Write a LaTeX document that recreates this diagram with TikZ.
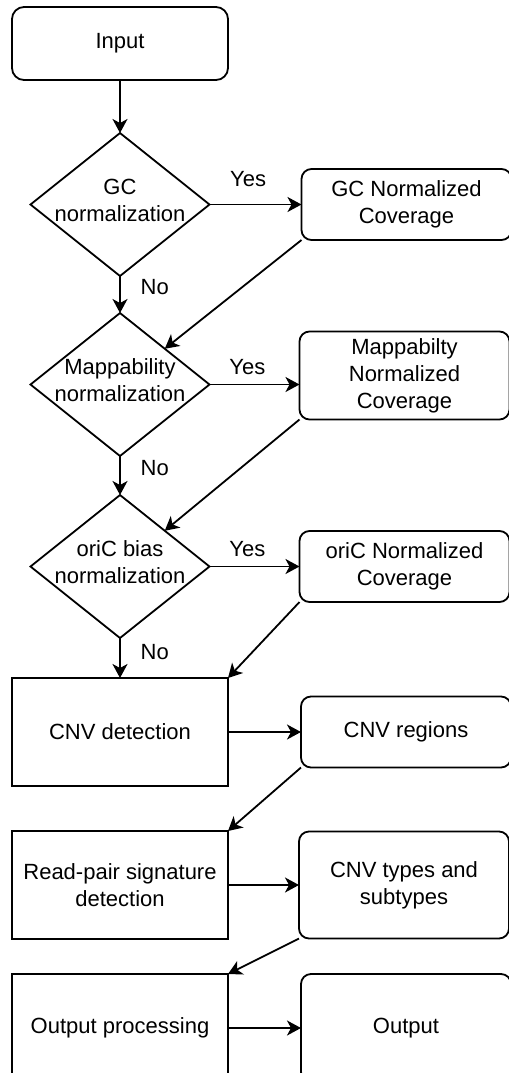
\documentclass[tikz,border=0pt]{standalone}
\usepackage{fontspec}
\setmainfont{Liberation Sans}
\usetikzlibrary{arrows.meta,positioning,shapes.geometric}
\tikzset{
  term/.style={draw, rectangle, rounded corners=6pt, minimum width=108pt, minimum height=36.5pt, align=center},
  decision/.style={draw, diamond, minimum width=89.5pt, minimum height=71.5pt, inner sep=0pt},
  dlabel/.style={align=center, yshift=2pt},
  block/.style={draw, rectangle, minimum width=108pt, minimum height=54pt, align=center},
  result/.style={draw, rectangle, rounded corners=5pt, minimum width=105pt, minimum height=35.5pt, align=center},
  arr/.style={-{Stealth[length=7pt, width=7.5pt, inset=2pt]}},
}

\begin{document}
\begin{tikzpicture}[line width=0.9pt, font=\fontsize{11}{13.5}\selectfont, outer sep=0pt]
\useasboundingbox (0,0) rectangle (254.5pt,-536.5pt);
% main column
\node[term] (in) at (60pt,-21.75pt) {Input};
\node[decision, below=26.5pt of in, label={[dlabel]center:GC\\normalization}] (gc) {};
\node[decision, below=18.5pt of gc, label={[dlabel]center:Mappability\\normalization}] (map) {};
\node[decision, below=19.5pt of map, label={[dlabel]center:oriC bias\\normalization}] (ori) {};
\node[block, below=20pt of ori] (cnv) {CNV detection};
\node[block, below=22.5pt of cnv] (rp) {Read-pair signature\\detection};
\node[block, below=17.5pt of rp] (op) {Output processing};
% right column
\node[result, right=46pt of gc] (gcn) {GC Normalized\\Coverage};
\node[result, right=45pt of map, yshift=4.5pt, minimum height=44pt] (mapn) {Mappabilty\\Normalized\\Coverage};
\node[result, right=45pt of ori] (orin) {oriC Normalized\\Coverage};
\node[result, right=36.5pt of cnv] (reg) {CNV regions};
\node[result, right=35.5pt of rp, minimum height=53.5pt] (typ) {CNV types and\\subtypes};
\node[result, right=36.5pt of op, minimum height=54pt] (out) {Output};
% down the main column
\draw[arr] (in) -- (gc);
\draw[arr] (gc) -- node[right=7pt, pos=.3]{No} (map);
\draw[arr] (map) -- node[right=7pt, pos=.3]{No} (ori);
\draw[arr] (ori) -- node[right=7pt, pos=.35]{No} (cnv);
% to the right
\draw[arr] (gc) -- node[above=5.5pt, pos=.42]{Yes} (gcn);
\draw[arr] (map.east) -- node[above=1.5pt, pos=.42]{Yes} (map.east -| mapn.west);
\draw[arr] (ori) -- node[above=1.5pt, pos=.42]{Yes} (orin);
\draw[arr] (cnv) -- (reg);
\draw[arr] (rp) -- (typ);
\draw[arr] (op) -- (out);
% back to the left
\draw[arr] (gcn.south west) -- (map.north east);
\draw[arr] (mapn.south west) -- (ori.north east);
\draw[arr] (orin.south west) -- (cnv.north east);
\draw[arr] (reg.south west) -- (rp.north east);
\draw[arr] (typ.south west) -- (op.north east);
\end{tikzpicture}
\end{document}
